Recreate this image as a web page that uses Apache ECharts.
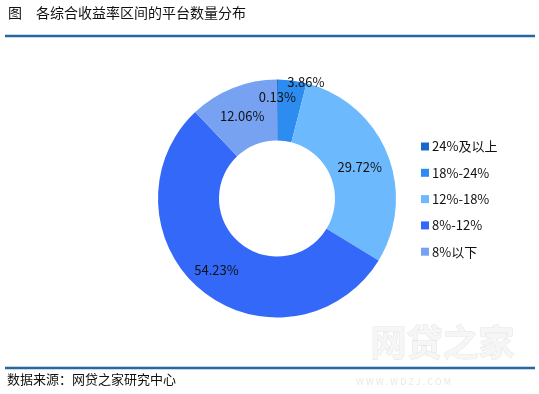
<!DOCTYPE html>
<html><head><meta charset="utf-8">
<script src="https://cdn.jsdelivr.net/npm/echarts@6/dist/echarts.min.js"></script>
<style>html,body{margin:0;padding:0;background:#fff}#c{width:539px;height:394px}</style>
</head><body><div id="c"></div>
<script>
const categories = ['24%及以上', '18%-24%', '12%-18%', '8%-12%', '8%以下'];
const values = [0.13, 3.86, 29.72, 54.23, 12.06];
const colors = ['#1a68cc', '#2d8cf0', '#6cb9fd', '#3468f8', '#77a2f2'];
const labelOffsets = [[0, -10], [17, -26], [-2, 3], [-3, 0], [-1, 3]];
const titleText = '图　各综合收益率区间的平台数量分布';
const sourceText = '数据来源：网贷之家研究中心';

const chart = echarts.init(document.getElementById('c'), null, {renderer: 'canvas'});
const font = '"Noto Sans CJK SC", "Microsoft YaHei", sans-serif';
chart.setOption({
  animation: false,
  textStyle: {fontFamily: font},
  graphic: [
    {type: 'text', left: 8, top: 6, style: {text: titleText, font: '14px ' + font, fill: '#111'}},
    {type: 'line', shape: {x1: 5, y1: 36, x2: 535, y2: 36}, style: {stroke: '#2666a3', lineWidth: 2.5}},
    {type: 'text', left: 370, top: 324, z: 0, style: {text: '网贷之家', font: 'bold 36px ' + font, fill: '#f6f6f6', stroke: '#e4e4e4', lineWidth: 1}},
    {type: 'text', left: 356, top: 377, z: 0, style: {text: 'W W W . W D Z J . C O M', font: '9px ' + font, fill: '#e8e8e8'}},
    {type: 'line', z: 10, shape: {x1: 5, y1: 368, x2: 535, y2: 368}, style: {stroke: '#2666a3', lineWidth: 2.5}},
    {type: 'text', left: 7, top: 373, style: {text: sourceText, font: '13px ' + font, fill: '#111'}}
  ],
  legend: {
    orient: 'vertical', left: 416, top: 135, itemGap: 13.3,
    itemWidth: 8, itemHeight: 8, icon: 'rect',
    textStyle: {fontSize: 13, color: '#111', fontFamily: font, padding: [0, 0, 0, -2]},
    data: categories
  },
  series: [{
    type: 'pie',
    center: [277, 198.5],
    radius: [58, 119],
    startAngle: 90,
    clockwise: true,
    avoidLabelOverlap: false,
    color: colors,
    label: {
      show: true, position: 'inside', fontSize: 13, color: '#111', fontFamily: font,
      formatter: p => values[p.dataIndex].toFixed(2) + '%'
    },
    labelLine: {show: false},
    itemStyle: {borderWidth: 0},
    data: categories.map((c, i) => ({name: c, value: values[i], label: {offset: labelOffsets[i]}}))
  }]
});
</script></body></html>
